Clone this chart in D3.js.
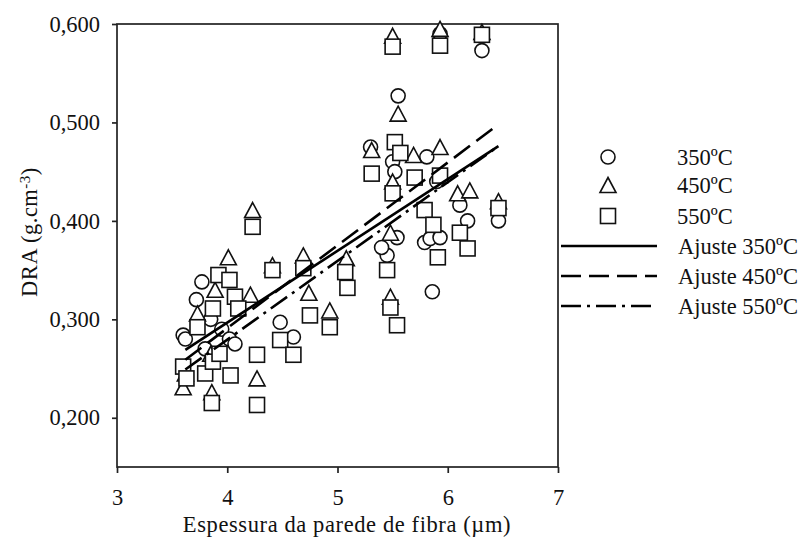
<!DOCTYPE html>
<html>
<head>
<meta charset="utf-8">
<script src="https://cdn.jsdelivr.net/npm/d3@7"></script>
<style>
  html, body { margin: 0; padding: 0; background: #fff; }
  svg { display: block; }
  text { font-family: "Liberation Serif", "Times New Roman", serif; fill: #111; }
</style>
</head>
<body>
<svg id="chart" width="808" height="539"></svg>
<script>
// Fibre wall thickness (µm) vs. apparent density (g.cm-3) for three carbonisation temperatures
const x350 = [3.60, 3.62, 3.72, 3.77, 3.80, 3.85, 3.95, 4.02, 4.07, 4.48, 4.60, 5.30, 5.50, 5.55, 5.45, 5.40, 5.54, 5.81, 5.79, 5.84, 5.93, 5.86, 6.11, 6.18, 6.31, 5.93, 6.46, 5.52, 5.90];
const y350 = [0.284, 0.280, 0.320, 0.338, 0.270, 0.300, 0.290, 0.280, 0.275, 0.297, 0.282, 0.475, 0.460, 0.527, 0.365, 0.373, 0.383, 0.465, 0.378, 0.382, 0.383, 0.328, 0.416, 0.400, 0.573, 0.590, 0.400, 0.450, 0.440];

const x450 = [3.60, 3.62, 3.73, 3.86, 3.89, 4.01, 4.21, 4.23, 4.27, 4.41, 4.69, 4.74, 4.93, 5.08, 5.31, 5.48, 5.48, 5.50, 5.55, 5.69, 5.93, 5.93, 6.09, 6.20, 6.31, 6.46, 5.50, 3.85];
const y450 = [0.231, 0.245, 0.306, 0.226, 0.330, 0.363, 0.325, 0.411, 0.240, 0.355, 0.365, 0.327, 0.309, 0.362, 0.472, 0.388, 0.323, 0.588, 0.509, 0.467, 0.475, 0.595, 0.428, 0.431, 0.592, 0.420, 0.440, 0.265];

const x550 = [3.60, 3.63, 3.73, 3.80, 3.86, 3.87, 3.87, 3.92, 4.02, 4.03, 4.07, 4.10, 3.93, 4.23, 4.27, 4.27, 4.41, 4.48, 4.60, 4.69, 4.75, 4.93, 5.07, 5.09, 5.31, 5.45, 5.48, 5.50, 5.50, 5.54, 5.52, 5.57, 5.70, 5.79, 5.87, 5.91, 5.93, 5.93, 6.11, 6.18, 6.31, 6.46];
const y550 = [0.252, 0.240, 0.292, 0.245, 0.215, 0.257, 0.311, 0.345, 0.340, 0.243, 0.323, 0.311, 0.265, 0.394, 0.264, 0.213, 0.350, 0.279, 0.264, 0.352, 0.304, 0.292, 0.348, 0.332, 0.448, 0.350, 0.312, 0.428, 0.577, 0.294, 0.480, 0.469, 0.444, 0.411, 0.396, 0.363, 0.578, 0.446, 0.388, 0.372, 0.589, 0.413];

// Linear fits: value at start and end of fitted range
const fitLabels = ["Ajuste 350ºC", "Ajuste 450ºC", "Ajuste 550ºC"];
const fitX0 = [3.62, 3.62, 3.62];
const fitX1 = [6.46, 6.46, 6.46];
const fitY0 = [0.269, 0.259, 0.249];
const fitY1 = [0.476, 0.498, 0.476];

const seriesLabels = ["350ºC", "450ºC", "550ºC"];
const xTicks = [3, 4, 5, 6, 7];
const yTicks = [0.2, 0.3, 0.4, 0.5, 0.6];

const svg = d3.select("#chart");
const mLeft = 117, mRight = 558, mTop = 24, mBottom = 467;
const fs = 22.5;

const x = d3.scaleLinear().domain([3, 7]).range([mLeft, mRight]);
const y = d3.scaleLinear().domain([0.15, 0.6]).range([mBottom, mTop]);

const fmtY = v => d3.format(".3f")(v).replace(".", ",");

// frame
svg.append("rect")
  .attr("x", mLeft).attr("y", mTop)
  .attr("width", mRight - mLeft).attr("height", mBottom - mTop)
  .attr("fill", "none").attr("stroke", "#222").attr("stroke-width", 1.7);

// axes
const gx = svg.append("g").attr("transform", `translate(0,${mBottom})`)
  .call(d3.axisBottom(x).tickValues(xTicks).tickFormat(d3.format("d")).tickSize(6).tickPadding(16));
const gy = svg.append("g").attr("transform", `translate(${mLeft},0)`)
  .call(d3.axisLeft(y).tickValues(yTicks).tickFormat(fmtY).tickSize(5).tickPadding(12));
[gx, gy].forEach(g => {
  g.select(".domain").remove();
  g.selectAll(".tick line").attr("stroke", "#222").attr("stroke-width", 1.7);
  g.selectAll(".tick text").attr("font-family", "Liberation Serif").attr("font-size", fs).attr("fill", "#111");
});

// axis titles
svg.append("text")
  .attr("x", 347).attr("y", 532)
  .attr("text-anchor", "middle").attr("font-size", fs).attr("letter-spacing", 0.6)
  .text("Espessura da parede de fibra (µm)");

const yt = svg.append("text")
  .attr("transform", "translate(37,232) rotate(-90)")
  .attr("text-anchor", "middle").attr("font-size", fs).attr("letter-spacing", 0.5);
yt.append("tspan").text("DRA (g.cm");
yt.append("tspan").attr("dy", "-0.45em").attr("font-size", 15).text("-3");
yt.append("tspan").attr("dy", "0.3em").text(")");

// marker shapes
const sq = 15, tw = 16, th = 15, cr = 7;
const triPath = (cx, cy) => `M${cx},${cy - th / 2}L${cx + tw / 2},${cy + th / 2}L${cx - tw / 2},${cy + th / 2}Z`;

const plot = svg.append("g");
const mstyle = sel => sel.attr("fill", "#fff").attr("stroke", "#111").attr("stroke-width", 1.6);

plot.append("g").selectAll("circle").data(d3.range(x350.length)).join("circle")
  .attr("cx", i => x(x350[i])).attr("cy", i => y(y350[i])).attr("r", cr).call(mstyle);

plot.append("g").selectAll("path").data(d3.range(x450.length)).join("path")
  .attr("d", i => triPath(x(x450[i]), y(y450[i]))).call(mstyle);

plot.append("g").selectAll("rect").data(d3.range(x550.length)).join("rect")
  .attr("x", i => x(x550[i]) - sq / 2).attr("y", i => y(y550[i]) - sq / 2)
  .attr("width", sq).attr("height", sq).call(mstyle);

// fit lines
const dashes = [null, "20,8", "20,6,3,6"];
const line = d3.line().x(d => x(d[0])).y(d => y(d[1]));
fitLabels.forEach((lab, i) => {
  plot.append("path")
    .attr("d", line([[fitX0[i], fitY0[i]], [fitX1[i], fitY1[i]]]))
    .attr("fill", "none").attr("stroke", "#000").attr("stroke-width", 2.6)
    .attr("stroke-dasharray", dashes[i]);
});

// legend
const lg = svg.append("g");
const symX = 608, txtX = 677;
const rowY = [157, 185, 216, 246, 276, 306];
lg.append("circle").attr("cx", symX).attr("cy", rowY[0]).attr("r", cr).call(mstyle);
lg.append("path").attr("d", triPath(symX, rowY[1])).call(mstyle);
lg.append("rect").attr("x", symX - sq / 2).attr("y", rowY[2] - sq / 2).attr("width", sq).attr("height", sq).call(mstyle);
seriesLabels.forEach((lab, i) => {
  lg.append("text").attr("x", txtX).attr("y", rowY[i]).attr("dy", "0.35em").attr("font-size", fs).text(lab);
});
fitLabels.forEach((lab, i) => {
  lg.append("line").attr("x1", 561).attr("x2", 657).attr("y1", rowY[3 + i]).attr("y2", rowY[3 + i])
    .attr("stroke", "#000").attr("stroke-width", 2.6).attr("stroke-dasharray", dashes[i]);
  lg.append("text").attr("x", 678).attr("y", rowY[3 + i]).attr("dy", "0.35em").attr("font-size", fs).text(lab);
});
</script>
</body>
</html>
